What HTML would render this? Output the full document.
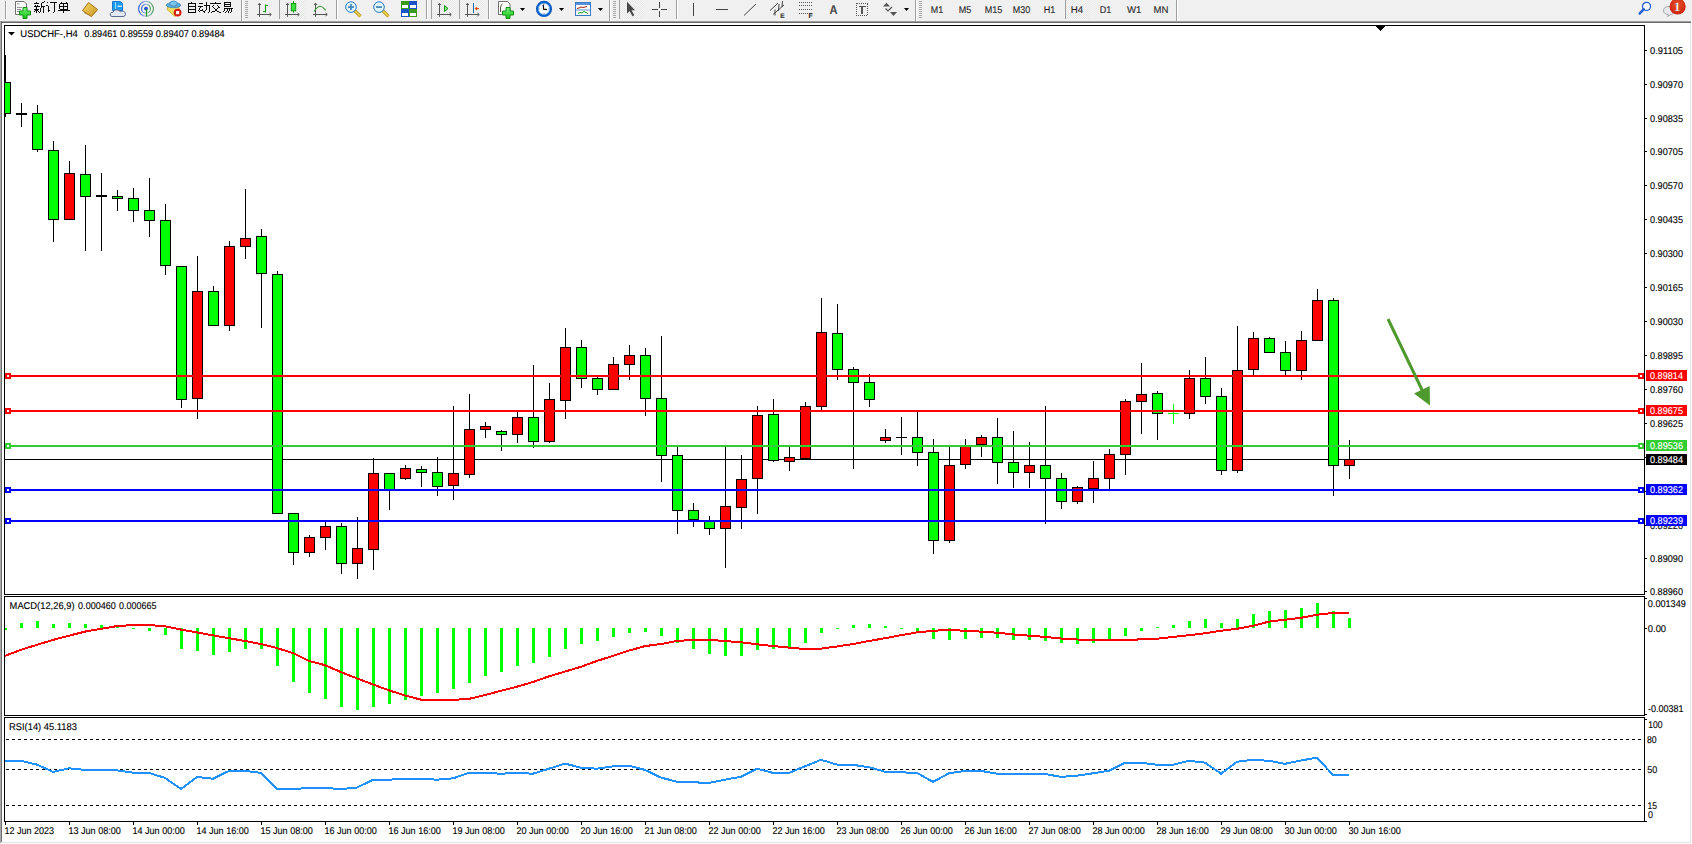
<!DOCTYPE html>
<html><head><meta charset="utf-8"><style>
html,body{margin:0;padding:0;background:#fff;overflow:hidden;width:1692px;height:844px}
svg{display:block;font-family:"Liberation Sans", sans-serif}
text{stroke:currentColor;stroke-width:0.12px;text-rendering:geometricPrecision}
</style></head><body>
<svg width="1692" height="844" viewBox="0 0 1692 844" shape-rendering="crispEdges">
<defs><clipPath id="mainclip"><rect x="5" y="26" width="1639" height="568"/></clipPath></defs>
<rect x="0" y="0" width="1692" height="844" fill="#fff"/>
<rect x="0" y="0" width="1692" height="21" fill="#f0f0f0"/>
<defs><pattern id="chk" width="2" height="2" patternUnits="userSpaceOnUse"><rect width="2" height="2" fill="#f7f7f7"/><rect width="1" height="1" fill="#e6e6e6"/><rect x="1" y="1" width="1" height="1" fill="#e6e6e6"/></pattern><linearGradient id="gpl" x1="0" y1="0" x2="0" y2="1"><stop offset="0" stop-color="#7cf27c"/><stop offset="1" stop-color="#10c010"/></linearGradient><linearGradient id="gold" x1="0" y1="0" x2="1" y2="1"><stop offset="0" stop-color="#f6dc6a"/><stop offset="1" stop-color="#c89420"/></linearGradient><radialGradient id="badge" cx="0.5" cy="0.4" r="0.6"><stop offset="0" stop-color="#e8502c"/><stop offset="1" stop-color="#cc2410"/></radialGradient><linearGradient id="rg" x1="0" y1="0" x2="1" y2="0"><stop offset="0" stop-color="#2a5ad0"/><stop offset="0.5" stop-color="#a8c0e8"/><stop offset="1" stop-color="#4a9a5a"/></linearGradient></defs>
<rect x="5" y="1" width="1" height="18" fill="#a0a0a0"/><rect x="6" y="1" width="1" height="18" fill="#ffffff"/>
<g shape-rendering="auto"><path d="M15.5 1.5H24L26.5 4V14.5H15.5Z" fill="#fff" stroke="#707070" stroke-width="1"/><path d="M17 3.8H19.5 M17 7.4H22 M17 9.5H21 M17 11.5H20" stroke="#8a8a8a" stroke-width="1"/><path d="M23 7.5H27V11H30.5V15H27V18.5H23V15H19.5V11H23Z" fill="url(#gpl)" stroke="#169016" stroke-width="1"/></g>
<path d="M3 0.3L3.6 1.6 M0.6 2.4H5.6 M1.6 3.4L2.1 4.9 M4.7 3.4L4.1 4.9 M0.2 5.5H6 M0.6 8H5.6 M3.1 5.5V11.8 M3 8.6L0.4 11 M3.3 9L5.4 10.6 M11.3 0.4L7.6 1.8 M7.6 1.8V6.8Q7.6 9.5 6.5 11.6 M7.6 5.4H12 M10 5.4V12" transform="translate(33.8,1.5) scale(0.95)" stroke="#000" stroke-width="1" fill="none" stroke-linecap="butt" shape-rendering="crispEdges"/>
<path d="M1 0.8L2.2 2.1 M0.3 4.6H2.6V10.8L4 9.6 M4.6 1.5H12 M8.5 1.5V11.2Q8.5 12 7.1 11.4" transform="translate(46.0,1.5) scale(0.95)" stroke="#000" stroke-width="1" fill="none" stroke-linecap="butt" shape-rendering="crispEdges"/>
<path d="M3.2 0L4.2 1.6 M8.8 0L7.8 1.6 M1.8 2.6H10.2V8.2H1.8Z M1.8 5.4H10.2 M6 2.6V12 M0 9.8H12" transform="translate(58.199999999999996,1.5) scale(0.95)" stroke="#000" stroke-width="1" fill="none" stroke-linecap="butt" shape-rendering="crispEdges"/>
<g shape-rendering="auto"><path d="M82.5 10.5L88.5 2.5L97.5 9.5L91.5 16.5Z" fill="url(#gold)" stroke="#a0701a" stroke-width="1"/><path d="M84 12.5L91.5 16.5L97.5 9.5" fill="none" stroke="#c08a30" stroke-width="1"/></g>
<g shape-rendering="auto"><path d="M112.5 1.5H120.5L122.5 3.5V10.5H112.5Z" fill="#1c9cf2" stroke="#1a78d0" stroke-width="1"/><path d="M115.5 2V9" stroke="#b8e4ff" stroke-width="0.8"/><path d="M117.5 6.2H122" stroke="#e8f6ff" stroke-width="1.2"/><path d="M112 16.5Q109.6 16.5 110.3 13.6Q111 11.8 113 12.3Q113.5 9.5 117 9.8Q119.5 9.8 120.5 12Q121.5 10.4 123.6 11.3Q126 12.2 125.5 14.5Q125.2 16.5 123 16.5Z" fill="#e4e8f2" stroke="#4a5a82" stroke-width="0.9"/></g>
<g shape-rendering="auto" fill="none"><circle cx="146" cy="8.8" r="7.4" stroke="url(#rg)" stroke-width="1.1"/><circle cx="146" cy="8.8" r="4.4" stroke="url(#rg)" stroke-width="1.1"/><circle cx="146" cy="8.6" r="1.9" fill="#2050d0" stroke="none"/><path d="M146.5 9V16.6" stroke="#20a020" stroke-width="1.3"/></g>
<g shape-rendering="auto"><path d="M167 9.5L175 16.5L180 11L178 6H168Z" fill="#f6e060" stroke="#c8a830" stroke-width="0.8"/><ellipse cx="173.5" cy="5.2" rx="7.2" ry="2.6" fill="#5aaee0" stroke="#3a80b8" stroke-width="0.8"/><ellipse cx="173.5" cy="3.6" rx="3.8" ry="2.6" fill="#7ac4ee" stroke="#3a80b8" stroke-width="0.8"/><circle cx="177.6" cy="12.6" r="3.9" fill="#d42010"/><rect x="176" y="11" width="3.2" height="3.2" fill="#fff"/></g>
<path d="M5.6 0L4.6 1.6 M2.2 1.8H9.8V11.8H2.2Z M2.2 5H9.8 M2.2 8.3H9.8 M2.2 11.3H9.8" transform="translate(186.2,1.5) scale(0.95)" stroke="#000" stroke-width="1" fill="none" stroke-linecap="butt" shape-rendering="crispEdges"/>
<path d="M0.8 2H5 M0.2 5H5.6 M2.6 5L0.6 10.2L5.2 9.2 M4 7.6L5.6 10.6 M6.4 4H11.6V10.6Q11.6 11.8 10 11.2 M9 0.8V5Q9 9 6.4 11.8" transform="translate(198.1,1.5) scale(0.95)" stroke="#000" stroke-width="1" fill="none" stroke-linecap="butt" shape-rendering="crispEdges"/>
<path d="M6 0L6.6 1.6 M0.4 2.6H11.6 M4.2 3.8L2 6.2 M7.8 3.8L10.2 6.2 M3.2 6.2Q6 10.5 11.2 11.8 M9 6.2Q6.5 10.5 0.8 11.8" transform="translate(210.0,1.5) scale(0.95)" stroke="#000" stroke-width="1" fill="none" stroke-linecap="butt" shape-rendering="crispEdges"/>
<path d="M3 0.6H9V5.6H3Z M3 3.1H9 M2.6 7H10.8Q10.8 11.8 9 11.4 M4.2 7L1.4 10.6 M6.6 7.6L4.2 11.6 M9 7.6L6.6 11.8" transform="translate(221.89999999999998,1.5) scale(0.95)" stroke="#000" stroke-width="1" fill="none" stroke-linecap="butt" shape-rendering="crispEdges"/>
<rect x="241" y="0" width="1" height="21" fill="#a0a0a0"/><rect x="242" y="0" width="1" height="21" fill="#ffffff"/>
<rect x="245" y="1" width="3" height="1" fill="#a8a8a8"/><rect x="245" y="3" width="3" height="1" fill="#a8a8a8"/><rect x="245" y="5" width="3" height="1" fill="#a8a8a8"/><rect x="245" y="7" width="3" height="1" fill="#a8a8a8"/><rect x="245" y="9" width="3" height="1" fill="#a8a8a8"/><rect x="245" y="11" width="3" height="1" fill="#a8a8a8"/><rect x="245" y="13" width="3" height="1" fill="#a8a8a8"/><rect x="245" y="15" width="3" height="1" fill="#a8a8a8"/><rect x="245" y="17" width="3" height="1" fill="#a8a8a8"/>
<g stroke="#555" stroke-width="1" fill="none" shape-rendering="auto"><path d="M259.5 3.5 V16.8 M257.0 14.5 H271.0"/><path d="M258.0 5 L259.5 3.2 L261.0 5 M269.5 13.0 L271.3 14.5 L269.5 16.0"/></g>
<path d="M265.5 4.5V12.5 M265.5 5.5H268 M263 11.5H265.5" stroke="#109a10" stroke-width="1.2" fill="none" shape-rendering="auto"/>
<rect x="279" y="0" width="1" height="19" fill="#a0a0a0"/><rect x="280" y="0" width="1" height="19" fill="#ffffff"/>
<rect x="280" y="0" width="25" height="19" fill="url(#chk)"/>
<g stroke="#555" stroke-width="1" fill="none" shape-rendering="auto"><path d="M287.5 3.5 V16.8 M285.0 14.5 H299.0"/><path d="M286.0 5 L287.5 3.2 L289.0 5 M297.5 13.0 L299.3 14.5 L297.5 16.0"/></g>
<g shape-rendering="auto"><path d="M293.5 1V12.7" stroke="#109a10" stroke-width="1"/><rect x="291.3" y="3.5" width="4.4" height="7.3" fill="#3ee03e" stroke="#109a10" stroke-width="1"/></g>
<g stroke="#555" stroke-width="1" fill="none" shape-rendering="auto"><path d="M315.5 3.5 V16.8 M313.0 14.5 H327.0"/><path d="M314.0 5 L315.5 3.2 L317.0 5 M325.5 13.0 L327.3 14.5 L325.5 16.0"/></g>
<path d="M314 11.5Q317.5 6 320.3 6.2Q322.5 6.5 325.6 10.3" stroke="#2a9a2a" stroke-width="1.1" fill="none" shape-rendering="auto"/>
<rect x="336" y="0" width="1" height="19" fill="#a0a0a0"/><rect x="337" y="0" width="1" height="19" fill="#ffffff"/>
<g shape-rendering="auto"><path d="M354.6 10.6L360.5 16.3" stroke="#b08a10" stroke-width="3.2"/><path d="M354.6 10.6L360.5 16.3" stroke="#f0d050" stroke-width="1.6"/><circle cx="351" cy="7.1" r="5.3" fill="#dff5fc" stroke="#2a78c8" stroke-width="1"/><path d="M348 7.1H354" stroke="#4a88b8" stroke-width="1.8"/><path d="M351 4.1V10.1" stroke="#4a88b8" stroke-width="1.8"/></g>
<g shape-rendering="auto"><path d="M382.6 10.6L388.5 16.3" stroke="#b08a10" stroke-width="3.2"/><path d="M382.6 10.6L388.5 16.3" stroke="#f0d050" stroke-width="1.6"/><circle cx="379" cy="7.1" r="5.3" fill="#dff5fc" stroke="#2a78c8" stroke-width="1"/><path d="M376 7.1H382" stroke="#4a88b8" stroke-width="1.8"/></g>
<rect x="401" y="1" width="8" height="8" fill="#3a9a1a"/><rect x="402" y="5" width="6" height="3" fill="#fff"/>
<rect x="409" y="1" width="8" height="8" fill="#1a52c8"/><rect x="410" y="5" width="6" height="3" fill="#fff"/>
<rect x="401" y="9" width="8" height="8" fill="#1a52c8"/><rect x="402" y="13" width="6" height="3" fill="#fff"/>
<rect x="409" y="9" width="8" height="8" fill="#3a9a1a"/><rect x="410" y="13" width="6" height="3" fill="#fff"/>
<rect x="426" y="0" width="1" height="19" fill="#a0a0a0"/><rect x="427" y="0" width="1" height="19" fill="#ffffff"/>
<rect x="431" y="0" width="1" height="19" fill="#a0a0a0"/><rect x="432" y="0" width="1" height="19" fill="#ffffff"/>
<rect x="432" y="0" width="24" height="19" fill="url(#chk)"/>
<g stroke="#555" stroke-width="1" fill="none" shape-rendering="auto"><path d="M439.5 3.5 V16.8 M437.0 14.5 H451.0"/><path d="M438.0 5 L439.5 3.2 L441.0 5 M449.5 13.0 L451.3 14.5 L449.5 16.0"/></g>
<path d="M444.5 5.5L448 8.5L444.5 11.5Z" fill="#7ee07e" stroke="#109a10" stroke-width="1" shape-rendering="auto"/>
<rect x="459" y="0" width="1" height="19" fill="#a0a0a0"/><rect x="460" y="0" width="1" height="19" fill="#ffffff"/>
<rect x="460" y="0" width="24" height="19" fill="url(#chk)"/>
<g stroke="#555" stroke-width="1" fill="none" shape-rendering="auto"><path d="M467.5 3.5 V16.8 M465.0 14.5 H479.0"/><path d="M466.0 5 L467.5 3.2 L469.0 5 M477.5 13.0 L479.3 14.5 L477.5 16.0"/></g>
<path d="M473.5 3V12.7" stroke="#1a6aa0" stroke-width="1"/><path d="M474.5 8.6L477 6.8V8H479V9.2H477V10.4Z" fill="#e05010" shape-rendering="auto"/>
<rect x="488" y="0" width="1" height="19" fill="#a0a0a0"/><rect x="489" y="0" width="1" height="19" fill="#ffffff"/>
<g shape-rendering="auto"><path d="M498.5 1.5H507.5L510 4V14.5H498.5Z" fill="#fff" stroke="#707070" stroke-width="1"/><path d="M502.5 4Q500.5 4.5 500.5 8V12" stroke="#554" stroke-width="1" fill="none"/><path d="M506 7.5H510V11H513.5V15H510V18.5H506V15H502.5V11H506Z" fill="url(#gpl)" stroke="#169016" stroke-width="1"/></g>
<polygon points="520,8 525,8 522.5,11" fill="#000" shape-rendering="auto"/>
<g shape-rendering="auto"><circle cx="544" cy="8.9" r="6.9" fill="#fff" stroke="#0d5cc4" stroke-width="2.4"/><circle cx="544" cy="8.9" r="5.6" fill="none" stroke="#4aa6f4" stroke-width="0.8"/><path d="M544 3.8V4.8 M544 13V14 M538.9 8.9H539.9 M548.1 8.9H549.1" stroke="#888" stroke-width="0.8"/><path d="M543.2 4.6L543.6 9.2L547 9.6" stroke="#000" stroke-width="1.2" fill="none"/></g>
<polygon points="559,8 564,8 561.5,11" fill="#000" shape-rendering="auto"/>
<g shape-rendering="auto"><rect x="575.5" y="2.5" width="15" height="13" fill="#fff" stroke="#3a78c8" stroke-width="1"/><rect x="576" y="3" width="14" height="2" fill="#5a90d8"/><path d="M576 10H590" stroke="#5a90d8" stroke-width="1"/><path d="M577 8.5L579 8L581 7L583 7.5L585 7L587 6.5" stroke="#a02010" stroke-width="1" fill="none"/><path d="M578 13.5L580 12.5L582 13L584 11.5L586 12.5L588 13.5" stroke="#109a10" stroke-width="1" fill="none"/></g>
<polygon points="598,8 603,8 600.5,11" fill="#000" shape-rendering="auto"/>
<rect x="609" y="0" width="1" height="21" fill="#a0a0a0"/><rect x="610" y="0" width="1" height="21" fill="#ffffff"/>
<rect x="613" y="1" width="3" height="1" fill="#a8a8a8"/><rect x="613" y="3" width="3" height="1" fill="#a8a8a8"/><rect x="613" y="5" width="3" height="1" fill="#a8a8a8"/><rect x="613" y="7" width="3" height="1" fill="#a8a8a8"/><rect x="613" y="9" width="3" height="1" fill="#a8a8a8"/><rect x="613" y="11" width="3" height="1" fill="#a8a8a8"/><rect x="613" y="13" width="3" height="1" fill="#a8a8a8"/><rect x="613" y="15" width="3" height="1" fill="#a8a8a8"/><rect x="613" y="17" width="3" height="1" fill="#a8a8a8"/>
<rect x="619" y="0" width="1" height="19" fill="#a0a0a0"/><rect x="620" y="0" width="1" height="19" fill="#ffffff"/>
<rect x="620" y="0" width="24" height="19" fill="url(#chk)"/>
<path d="M627 1.8V13.5L629.5 11L632.5 16.3L634.3 15.3L631.5 10.2H635Z" fill="#474747" shape-rendering="auto"/>
<path d="M652 9.5H658 M661 9.5H667 M659.5 2V8 M659.5 11V17" stroke="#444" stroke-width="1"/>
<rect x="676" y="0" width="1" height="19" fill="#a0a0a0"/><rect x="677" y="0" width="1" height="19" fill="#ffffff"/>
<rect x="693" y="3" width="1" height="13" fill="#444"/>
<rect x="716" y="9" width="12" height="1" fill="#444"/>
<path d="M744 15.5L756 4" stroke="#444" stroke-width="1" shape-rendering="auto"/>
<g shape-rendering="auto" stroke="#444" stroke-width="1" fill="none"><path d="M770 10.5L778 3 M773 14.5L784 5 M775 9.5L775 15.5 M779 4L778.5 11 M782.5 1L782 7"/><text x="780.3" y="17.6" font-size="6.5" font-weight="bold" fill="#333" stroke="none">E</text></g>
<path d="M799 2.5H812" stroke="#555" stroke-width="1" stroke-dasharray="1,1"/>
<path d="M799 5.5H812" stroke="#555" stroke-width="1" stroke-dasharray="1,1"/>
<path d="M799 9.5H812" stroke="#555" stroke-width="1" stroke-dasharray="1,1"/>
<path d="M799 13.5H812" stroke="#555" stroke-width="1" stroke-dasharray="1,1"/>
<text x="808.5" y="18" font-size="6.8" font-weight="bold" fill="#333">F</text>
<text x="829.5" y="14.3" font-size="12.5" fill="#505050" font-weight="bold" textLength="8" lengthAdjust="spacingAndGlyphs">A</text>
<rect x="856.5" y="3" width="11" height="12.5" fill="none" stroke="#555" stroke-width="1" stroke-dasharray="1,1"/>
<path d="M858.5 6.5H866 M862.2 6.5V14" stroke="#555" stroke-width="1.6"/>
<g shape-rendering="auto"><path d="M883 6.5L886.5 2.8L890 6.5Z" fill="#555"/><path d="M885.5 8.5L888 11L892 7" stroke="#555" stroke-width="1.2" fill="none"/><path d="M890 12L893.5 16L897 12Z" fill="#555"/></g>
<polygon points="904,8 909,8 906.5,11" fill="#000" shape-rendering="auto"/>
<rect x="915" y="0" width="1" height="21" fill="#a0a0a0"/><rect x="916" y="0" width="1" height="21" fill="#ffffff"/>
<rect x="919" y="1" width="3" height="1" fill="#a8a8a8"/><rect x="919" y="3" width="3" height="1" fill="#a8a8a8"/><rect x="919" y="5" width="3" height="1" fill="#a8a8a8"/><rect x="919" y="7" width="3" height="1" fill="#a8a8a8"/><rect x="919" y="9" width="3" height="1" fill="#a8a8a8"/><rect x="919" y="11" width="3" height="1" fill="#a8a8a8"/><rect x="919" y="13" width="3" height="1" fill="#a8a8a8"/><rect x="919" y="15" width="3" height="1" fill="#a8a8a8"/><rect x="919" y="17" width="3" height="1" fill="#a8a8a8"/>
<rect x="1065" y="0" width="1" height="19" fill="#a0a0a0"/>
<rect x="1066" y="0" width="24" height="19" fill="url(#chk)"/>
<text x="930.8" y="13" font-size="9.8" fill="#333" textLength="12.4" lengthAdjust="spacingAndGlyphs">M1</text>
<text x="958.7" y="13" font-size="9.8" fill="#333" textLength="12.6" lengthAdjust="spacingAndGlyphs">M5</text>
<text x="984.7" y="13" font-size="9.8" fill="#333" textLength="17.6" lengthAdjust="spacingAndGlyphs">M15</text>
<text x="1012.7" y="13" font-size="9.8" fill="#333" textLength="17.5" lengthAdjust="spacingAndGlyphs">M30</text>
<text x="1043.7" y="13" font-size="9.8" fill="#333" textLength="11.6" lengthAdjust="spacingAndGlyphs">H1</text>
<text x="1070.7" y="13" font-size="9.8" fill="#333" textLength="12.4" lengthAdjust="spacingAndGlyphs">H4</text>
<text x="1099.7" y="13" font-size="9.8" fill="#333" textLength="11.6" lengthAdjust="spacingAndGlyphs">D1</text>
<text x="1127" y="13" font-size="9.8" fill="#333" textLength="14.5" lengthAdjust="spacingAndGlyphs">W1</text>
<text x="1153.5" y="13" font-size="9.8" fill="#333" textLength="14.9" lengthAdjust="spacingAndGlyphs">MN</text>
<rect x="1176" y="0" width="1" height="21" fill="#a0a0a0"/><rect x="1177" y="0" width="1" height="21" fill="#ffffff"/>
<g shape-rendering="auto"><circle cx="1646.5" cy="6.4" r="4" fill="#fff" stroke="#2060d0" stroke-width="1.3"/><path d="M1643.8 9.2L1639.6 13.6" stroke="#2060d0" stroke-width="2.4" stroke-linecap="round"/></g>
<g shape-rendering="auto"><path d="M1667.5 16.5L1668.5 14.7Q1663.5 14 1663.5 10.7Q1663.5 6.5 1669 6.5Q1674.5 6.5 1674.5 10.7Q1674.5 14.5 1670.5 14.7Z" fill="#e8e8ef" stroke="#a0a0a0" stroke-width="0.9"/><circle cx="1677.6" cy="6.4" r="8.1" fill="url(#badge)"/><text x="1674" y="11.3" font-size="12.5" font-family="Liberation Serif, serif" font-weight="bold" fill="#fff">1</text></g>
<rect x="0" y="21" width="1691" height="1" fill="#a0a0a0"/>
<rect x="0" y="22" width="1691" height="1" fill="#696969"/>
<rect x="0" y="21" width="1" height="822" fill="#a8a8a8"/>
<rect x="1" y="21" width="1" height="821" fill="#707070"/>
<rect x="1690" y="23" width="1" height="820" fill="#e3e3e3"/>
<rect x="1691" y="0" width="1" height="21" fill="#f0f0f0"/>
<rect x="2" y="842" width="1689" height="1" fill="#e3e3e3"/>
<rect x="4" y="25" width="1641" height="1" fill="#000"/>
<rect x="4" y="594" width="1641" height="1" fill="#000"/>
<rect x="4" y="25" width="1" height="570" fill="#000"/>
<rect x="1644" y="25" width="1" height="570" fill="#000"/>
<rect x="4" y="596" width="1641" height="1" fill="#000"/>
<rect x="4" y="715" width="1641" height="1" fill="#000"/>
<rect x="4" y="596" width="1" height="120" fill="#000"/>
<rect x="1644" y="596" width="1" height="120" fill="#000"/>
<rect x="4" y="717" width="1641" height="1" fill="#000"/>
<rect x="4" y="821" width="1641" height="1" fill="#000"/>
<rect x="4" y="717" width="1" height="105" fill="#000"/>
<rect x="1644" y="717" width="1" height="105" fill="#000"/>
<polygon points="1375.5,26 1385.5,26 1380.5,31" fill="#000"/>
<rect x="1645" y="50" width="2" height="1" fill="#000"/>
<text x="1650" y="53.6" font-size="9.8" fill="#000" color="#000" textLength="33" lengthAdjust="spacingAndGlyphs">0.91105</text>
<rect x="1645" y="84" width="2" height="1" fill="#000"/>
<text x="1650" y="87.6" font-size="9.8" fill="#000" color="#000" textLength="33" lengthAdjust="spacingAndGlyphs">0.90970</text>
<rect x="1645" y="118" width="2" height="1" fill="#000"/>
<text x="1650" y="121.6" font-size="9.8" fill="#000" color="#000" textLength="33" lengthAdjust="spacingAndGlyphs">0.90835</text>
<rect x="1645" y="151" width="2" height="1" fill="#000"/>
<text x="1650" y="154.6" font-size="9.8" fill="#000" color="#000" textLength="33" lengthAdjust="spacingAndGlyphs">0.90705</text>
<rect x="1645" y="185" width="2" height="1" fill="#000"/>
<text x="1650" y="188.6" font-size="9.8" fill="#000" color="#000" textLength="33" lengthAdjust="spacingAndGlyphs">0.90570</text>
<rect x="1645" y="219" width="2" height="1" fill="#000"/>
<text x="1650" y="222.6" font-size="9.8" fill="#000" color="#000" textLength="33" lengthAdjust="spacingAndGlyphs">0.90435</text>
<rect x="1645" y="253" width="2" height="1" fill="#000"/>
<text x="1650" y="256.6" font-size="9.8" fill="#000" color="#000" textLength="33" lengthAdjust="spacingAndGlyphs">0.90300</text>
<rect x="1645" y="287" width="2" height="1" fill="#000"/>
<text x="1650" y="290.6" font-size="9.8" fill="#000" color="#000" textLength="33" lengthAdjust="spacingAndGlyphs">0.90165</text>
<rect x="1645" y="321" width="2" height="1" fill="#000"/>
<text x="1650" y="324.6" font-size="9.8" fill="#000" color="#000" textLength="33" lengthAdjust="spacingAndGlyphs">0.90030</text>
<rect x="1645" y="355" width="2" height="1" fill="#000"/>
<text x="1650" y="358.6" font-size="9.8" fill="#000" color="#000" textLength="33" lengthAdjust="spacingAndGlyphs">0.89895</text>
<rect x="1645" y="389" width="2" height="1" fill="#000"/>
<text x="1650" y="392.6" font-size="9.8" fill="#000" color="#000" textLength="33" lengthAdjust="spacingAndGlyphs">0.89760</text>
<rect x="1645" y="423" width="2" height="1" fill="#000"/>
<text x="1650" y="426.6" font-size="9.8" fill="#000" color="#000" textLength="33" lengthAdjust="spacingAndGlyphs">0.89625</text>
<rect x="1645" y="457" width="2" height="1" fill="#000"/>
<text x="1650" y="460.6" font-size="9.8" fill="#000" color="#000" textLength="33" lengthAdjust="spacingAndGlyphs">0.89490</text>
<rect x="1645" y="491" width="2" height="1" fill="#000"/>
<text x="1650" y="494.6" font-size="9.8" fill="#000" color="#000" textLength="33" lengthAdjust="spacingAndGlyphs">0.89355</text>
<rect x="1645" y="525" width="2" height="1" fill="#000"/>
<text x="1650" y="528.6" font-size="9.8" fill="#000" color="#000" textLength="33" lengthAdjust="spacingAndGlyphs">0.89220</text>
<rect x="1645" y="558" width="2" height="1" fill="#000"/>
<text x="1650" y="561.6" font-size="9.8" fill="#000" color="#000" textLength="33" lengthAdjust="spacingAndGlyphs">0.89090</text>
<rect x="1645" y="591" width="2" height="1" fill="#000"/>
<text x="1650" y="594.6" font-size="9.8" fill="#000" color="#000" textLength="33" lengthAdjust="spacingAndGlyphs">0.88960</text>
<rect x="5" y="459" width="1639" height="1" fill="#000"/>
<g clip-path="url(#mainclip)">
<rect x="5" y="55" width="1" height="62" fill="#000"/>
<rect x="0" y="82" width="11" height="32" fill="#000"/>
<rect x="1" y="83" width="9" height="30" fill="#00ff00"/>
<rect x="21" y="103" width="1" height="24" fill="#000"/>
<rect x="16" y="113" width="11" height="2" fill="#000"/>
<rect x="37" y="105" width="1" height="47" fill="#000"/>
<rect x="32" y="113" width="11" height="37" fill="#000"/>
<rect x="33" y="114" width="9" height="35" fill="#00ff00"/>
<rect x="53" y="141" width="1" height="101" fill="#000"/>
<rect x="48" y="150" width="11" height="70" fill="#000"/>
<rect x="49" y="151" width="9" height="68" fill="#00ff00"/>
<rect x="69" y="161" width="1" height="59" fill="#000"/>
<rect x="64" y="173" width="11" height="47" fill="#000"/>
<rect x="65" y="174" width="9" height="45" fill="#ff0000"/>
<rect x="85" y="145" width="1" height="106" fill="#000"/>
<rect x="80" y="174" width="11" height="23" fill="#000"/>
<rect x="81" y="175" width="9" height="21" fill="#00ff00"/>
<rect x="101" y="173" width="1" height="78" fill="#000"/>
<rect x="96" y="195" width="11" height="2" fill="#000"/>
<rect x="117" y="190" width="1" height="21" fill="#000"/>
<rect x="112" y="196" width="11" height="3" fill="#000"/>
<rect x="113" y="197" width="9" height="1" fill="#00ff00"/>
<rect x="133" y="188" width="1" height="34" fill="#000"/>
<rect x="128" y="198" width="11" height="13" fill="#000"/>
<rect x="129" y="199" width="9" height="11" fill="#00ff00"/>
<rect x="149" y="178" width="1" height="59" fill="#000"/>
<rect x="144" y="210" width="11" height="11" fill="#000"/>
<rect x="145" y="211" width="9" height="9" fill="#00ff00"/>
<rect x="165" y="204" width="1" height="71" fill="#000"/>
<rect x="160" y="220" width="11" height="46" fill="#000"/>
<rect x="161" y="221" width="9" height="44" fill="#00ff00"/>
<rect x="181" y="266" width="1" height="142" fill="#000"/>
<rect x="176" y="266" width="11" height="134" fill="#000"/>
<rect x="177" y="267" width="9" height="132" fill="#00ff00"/>
<rect x="197" y="256" width="1" height="163" fill="#000"/>
<rect x="192" y="291" width="11" height="108" fill="#000"/>
<rect x="193" y="292" width="9" height="106" fill="#ff0000"/>
<rect x="213" y="286" width="1" height="40" fill="#000"/>
<rect x="208" y="291" width="11" height="35" fill="#000"/>
<rect x="209" y="292" width="9" height="33" fill="#00ff00"/>
<rect x="229" y="241" width="1" height="90" fill="#000"/>
<rect x="224" y="246" width="11" height="80" fill="#000"/>
<rect x="225" y="247" width="9" height="78" fill="#ff0000"/>
<rect x="245" y="189" width="1" height="70" fill="#000"/>
<rect x="240" y="238" width="11" height="9" fill="#000"/>
<rect x="241" y="239" width="9" height="7" fill="#ff0000"/>
<rect x="261" y="229" width="1" height="99" fill="#000"/>
<rect x="256" y="236" width="11" height="38" fill="#000"/>
<rect x="257" y="237" width="9" height="36" fill="#00ff00"/>
<rect x="277" y="271" width="1" height="243" fill="#000"/>
<rect x="272" y="274" width="11" height="240" fill="#000"/>
<rect x="273" y="275" width="9" height="238" fill="#00ff00"/>
<rect x="293" y="513" width="1" height="52" fill="#000"/>
<rect x="288" y="513" width="11" height="40" fill="#000"/>
<rect x="289" y="514" width="9" height="38" fill="#00ff00"/>
<rect x="309" y="535" width="1" height="22" fill="#000"/>
<rect x="304" y="537" width="11" height="16" fill="#000"/>
<rect x="305" y="538" width="9" height="14" fill="#ff0000"/>
<rect x="325" y="521" width="1" height="29" fill="#000"/>
<rect x="320" y="526" width="11" height="12" fill="#000"/>
<rect x="321" y="527" width="9" height="10" fill="#ff0000"/>
<rect x="341" y="523" width="1" height="51" fill="#000"/>
<rect x="336" y="526" width="11" height="38" fill="#000"/>
<rect x="337" y="527" width="9" height="36" fill="#00ff00"/>
<rect x="357" y="517" width="1" height="62" fill="#000"/>
<rect x="352" y="548" width="11" height="16" fill="#000"/>
<rect x="353" y="549" width="9" height="14" fill="#ff0000"/>
<rect x="373" y="458" width="1" height="112" fill="#000"/>
<rect x="368" y="473" width="11" height="77" fill="#000"/>
<rect x="369" y="474" width="9" height="75" fill="#ff0000"/>
<rect x="389" y="473" width="1" height="37" fill="#000"/>
<rect x="384" y="473" width="11" height="17" fill="#000"/>
<rect x="385" y="474" width="9" height="15" fill="#00ff00"/>
<rect x="405" y="465" width="1" height="15" fill="#000"/>
<rect x="400" y="468" width="11" height="11" fill="#000"/>
<rect x="401" y="469" width="9" height="9" fill="#ff0000"/>
<rect x="421" y="466" width="1" height="21" fill="#000"/>
<rect x="416" y="469" width="11" height="4" fill="#000"/>
<rect x="417" y="470" width="9" height="2" fill="#00ff00"/>
<rect x="437" y="457" width="1" height="39" fill="#000"/>
<rect x="432" y="472" width="11" height="15" fill="#000"/>
<rect x="433" y="473" width="9" height="13" fill="#00ff00"/>
<rect x="453" y="406" width="1" height="94" fill="#000"/>
<rect x="448" y="473" width="11" height="13" fill="#000"/>
<rect x="449" y="474" width="9" height="11" fill="#ff0000"/>
<rect x="469" y="394" width="1" height="84" fill="#000"/>
<rect x="464" y="429" width="11" height="46" fill="#000"/>
<rect x="465" y="430" width="9" height="44" fill="#ff0000"/>
<rect x="485" y="422" width="1" height="16" fill="#000"/>
<rect x="480" y="426" width="11" height="4" fill="#000"/>
<rect x="481" y="427" width="9" height="2" fill="#ff0000"/>
<rect x="501" y="430" width="1" height="21" fill="#000"/>
<rect x="496" y="431" width="11" height="4" fill="#000"/>
<rect x="497" y="432" width="9" height="2" fill="#00ff00"/>
<rect x="517" y="412" width="1" height="31" fill="#000"/>
<rect x="512" y="417" width="11" height="18" fill="#000"/>
<rect x="513" y="418" width="9" height="16" fill="#ff0000"/>
<rect x="533" y="365" width="1" height="83" fill="#000"/>
<rect x="528" y="417" width="11" height="25" fill="#000"/>
<rect x="529" y="418" width="9" height="23" fill="#00ff00"/>
<rect x="549" y="383" width="1" height="60" fill="#000"/>
<rect x="544" y="399" width="11" height="43" fill="#000"/>
<rect x="545" y="400" width="9" height="41" fill="#ff0000"/>
<rect x="565" y="328" width="1" height="91" fill="#000"/>
<rect x="560" y="347" width="11" height="54" fill="#000"/>
<rect x="561" y="348" width="9" height="52" fill="#ff0000"/>
<rect x="581" y="340" width="1" height="48" fill="#000"/>
<rect x="576" y="347" width="11" height="32" fill="#000"/>
<rect x="577" y="348" width="9" height="30" fill="#00ff00"/>
<rect x="597" y="376" width="1" height="19" fill="#000"/>
<rect x="592" y="378" width="11" height="12" fill="#000"/>
<rect x="593" y="379" width="9" height="10" fill="#00ff00"/>
<rect x="613" y="357" width="1" height="33" fill="#000"/>
<rect x="608" y="364" width="11" height="26" fill="#000"/>
<rect x="609" y="365" width="9" height="24" fill="#ff0000"/>
<rect x="629" y="345" width="1" height="35" fill="#000"/>
<rect x="624" y="355" width="11" height="10" fill="#000"/>
<rect x="625" y="356" width="9" height="8" fill="#ff0000"/>
<rect x="645" y="348" width="1" height="68" fill="#000"/>
<rect x="640" y="355" width="11" height="44" fill="#000"/>
<rect x="641" y="356" width="9" height="42" fill="#00ff00"/>
<rect x="661" y="336" width="1" height="146" fill="#000"/>
<rect x="656" y="398" width="11" height="58" fill="#000"/>
<rect x="657" y="399" width="9" height="56" fill="#00ff00"/>
<rect x="677" y="447" width="1" height="87" fill="#000"/>
<rect x="672" y="455" width="11" height="56" fill="#000"/>
<rect x="673" y="456" width="9" height="54" fill="#00ff00"/>
<rect x="693" y="503" width="1" height="24" fill="#000"/>
<rect x="688" y="510" width="11" height="10" fill="#000"/>
<rect x="689" y="511" width="9" height="8" fill="#00ff00"/>
<rect x="709" y="516" width="1" height="19" fill="#000"/>
<rect x="704" y="521" width="11" height="8" fill="#000"/>
<rect x="705" y="522" width="9" height="6" fill="#00ff00"/>
<rect x="725" y="447" width="1" height="121" fill="#000"/>
<rect x="720" y="506" width="11" height="23" fill="#000"/>
<rect x="721" y="507" width="9" height="21" fill="#ff0000"/>
<rect x="741" y="455" width="1" height="74" fill="#000"/>
<rect x="736" y="479" width="11" height="29" fill="#000"/>
<rect x="737" y="480" width="9" height="27" fill="#ff0000"/>
<rect x="757" y="406" width="1" height="108" fill="#000"/>
<rect x="752" y="415" width="11" height="64" fill="#000"/>
<rect x="753" y="416" width="9" height="62" fill="#ff0000"/>
<rect x="773" y="399" width="1" height="63" fill="#000"/>
<rect x="768" y="414" width="11" height="47" fill="#000"/>
<rect x="769" y="415" width="9" height="45" fill="#00ff00"/>
<rect x="789" y="447" width="1" height="24" fill="#000"/>
<rect x="784" y="457" width="11" height="5" fill="#000"/>
<rect x="785" y="458" width="9" height="3" fill="#ff0000"/>
<rect x="805" y="402" width="1" height="57" fill="#000"/>
<rect x="800" y="406" width="11" height="53" fill="#000"/>
<rect x="801" y="407" width="9" height="51" fill="#ff0000"/>
<rect x="821" y="298" width="1" height="113" fill="#000"/>
<rect x="816" y="332" width="11" height="75" fill="#000"/>
<rect x="817" y="333" width="9" height="73" fill="#ff0000"/>
<rect x="837" y="304" width="1" height="76" fill="#000"/>
<rect x="832" y="333" width="11" height="37" fill="#000"/>
<rect x="833" y="334" width="9" height="35" fill="#00ff00"/>
<rect x="853" y="367" width="1" height="102" fill="#000"/>
<rect x="848" y="369" width="11" height="14" fill="#000"/>
<rect x="849" y="370" width="9" height="12" fill="#00ff00"/>
<rect x="869" y="374" width="1" height="33" fill="#000"/>
<rect x="864" y="382" width="11" height="18" fill="#000"/>
<rect x="865" y="383" width="9" height="16" fill="#00ff00"/>
<rect x="885" y="429" width="1" height="14" fill="#000"/>
<rect x="880" y="437" width="11" height="4" fill="#000"/>
<rect x="881" y="438" width="9" height="2" fill="#ff0000"/>
<rect x="901" y="417" width="1" height="38" fill="#000"/>
<rect x="896" y="437" width="11" height="1" fill="#000"/>
<rect x="917" y="412" width="1" height="54" fill="#000"/>
<rect x="912" y="437" width="11" height="16" fill="#000"/>
<rect x="913" y="438" width="9" height="14" fill="#00ff00"/>
<rect x="933" y="439" width="1" height="115" fill="#000"/>
<rect x="928" y="452" width="11" height="89" fill="#000"/>
<rect x="929" y="453" width="9" height="87" fill="#00ff00"/>
<rect x="949" y="446" width="1" height="97" fill="#000"/>
<rect x="944" y="465" width="11" height="76" fill="#000"/>
<rect x="945" y="466" width="9" height="74" fill="#ff0000"/>
<rect x="965" y="439" width="1" height="30" fill="#000"/>
<rect x="960" y="446" width="11" height="19" fill="#000"/>
<rect x="961" y="447" width="9" height="17" fill="#ff0000"/>
<rect x="981" y="435" width="1" height="22" fill="#000"/>
<rect x="976" y="437" width="11" height="8" fill="#000"/>
<rect x="977" y="438" width="9" height="6" fill="#ff0000"/>
<rect x="997" y="418" width="1" height="66" fill="#000"/>
<rect x="992" y="437" width="11" height="26" fill="#000"/>
<rect x="993" y="438" width="9" height="24" fill="#00ff00"/>
<rect x="1013" y="431" width="1" height="57" fill="#000"/>
<rect x="1008" y="462" width="11" height="11" fill="#000"/>
<rect x="1009" y="463" width="9" height="9" fill="#00ff00"/>
<rect x="1029" y="442" width="1" height="46" fill="#000"/>
<rect x="1024" y="465" width="11" height="8" fill="#000"/>
<rect x="1025" y="466" width="9" height="6" fill="#ff0000"/>
<rect x="1045" y="406" width="1" height="118" fill="#000"/>
<rect x="1040" y="465" width="11" height="14" fill="#000"/>
<rect x="1041" y="466" width="9" height="12" fill="#00ff00"/>
<rect x="1061" y="473" width="1" height="36" fill="#000"/>
<rect x="1056" y="478" width="11" height="24" fill="#000"/>
<rect x="1057" y="479" width="9" height="22" fill="#00ff00"/>
<rect x="1077" y="486" width="1" height="18" fill="#000"/>
<rect x="1072" y="487" width="11" height="15" fill="#000"/>
<rect x="1073" y="488" width="9" height="13" fill="#ff0000"/>
<rect x="1093" y="461" width="1" height="42" fill="#000"/>
<rect x="1088" y="478" width="11" height="11" fill="#000"/>
<rect x="1089" y="479" width="9" height="9" fill="#ff0000"/>
<rect x="1109" y="449" width="1" height="41" fill="#000"/>
<rect x="1104" y="454" width="11" height="25" fill="#000"/>
<rect x="1105" y="455" width="9" height="23" fill="#ff0000"/>
<rect x="1125" y="399" width="1" height="76" fill="#000"/>
<rect x="1120" y="401" width="11" height="54" fill="#000"/>
<rect x="1121" y="402" width="9" height="52" fill="#ff0000"/>
<rect x="1141" y="363" width="1" height="71" fill="#000"/>
<rect x="1136" y="394" width="11" height="8" fill="#000"/>
<rect x="1137" y="395" width="9" height="6" fill="#ff0000"/>
<rect x="1157" y="391" width="1" height="49" fill="#000"/>
<rect x="1152" y="393" width="11" height="21" fill="#000"/>
<rect x="1153" y="394" width="9" height="19" fill="#00ff00"/>
<rect x="1173" y="404" width="1" height="20" fill="#00ff00"/>
<rect x="1168" y="413" width="11" height="1" fill="#00ff00"/>
<rect x="1189" y="370" width="1" height="49" fill="#000"/>
<rect x="1184" y="378" width="11" height="36" fill="#000"/>
<rect x="1185" y="379" width="9" height="34" fill="#ff0000"/>
<rect x="1205" y="357" width="1" height="47" fill="#000"/>
<rect x="1200" y="378" width="11" height="19" fill="#000"/>
<rect x="1201" y="379" width="9" height="17" fill="#00ff00"/>
<rect x="1221" y="388" width="1" height="87" fill="#000"/>
<rect x="1216" y="396" width="11" height="75" fill="#000"/>
<rect x="1217" y="397" width="9" height="73" fill="#00ff00"/>
<rect x="1237" y="326" width="1" height="147" fill="#000"/>
<rect x="1232" y="370" width="11" height="101" fill="#000"/>
<rect x="1233" y="371" width="9" height="99" fill="#ff0000"/>
<rect x="1253" y="332" width="1" height="44" fill="#000"/>
<rect x="1248" y="338" width="11" height="32" fill="#000"/>
<rect x="1249" y="339" width="9" height="30" fill="#ff0000"/>
<rect x="1269" y="337" width="1" height="16" fill="#000"/>
<rect x="1264" y="338" width="11" height="15" fill="#000"/>
<rect x="1265" y="339" width="9" height="13" fill="#00ff00"/>
<rect x="1285" y="341" width="1" height="35" fill="#000"/>
<rect x="1280" y="352" width="11" height="19" fill="#000"/>
<rect x="1281" y="353" width="9" height="17" fill="#00ff00"/>
<rect x="1301" y="331" width="1" height="49" fill="#000"/>
<rect x="1296" y="340" width="11" height="31" fill="#000"/>
<rect x="1297" y="341" width="9" height="29" fill="#ff0000"/>
<rect x="1317" y="289" width="1" height="52" fill="#000"/>
<rect x="1312" y="300" width="11" height="41" fill="#000"/>
<rect x="1313" y="301" width="9" height="39" fill="#ff0000"/>
<rect x="1333" y="298" width="1" height="198" fill="#000"/>
<rect x="1328" y="300" width="11" height="166" fill="#000"/>
<rect x="1329" y="301" width="9" height="164" fill="#00ff00"/>
<rect x="1349" y="440" width="1" height="39" fill="#000"/>
<rect x="1344" y="459" width="11" height="7" fill="#000"/>
<rect x="1345" y="460" width="9" height="5" fill="#ff0000"/>
</g>
<rect x="5" y="375" width="1639" height="2" fill="#ff0000"/>
<rect x="5" y="373" width="6" height="6" fill="#ff0000"/>
<rect x="7" y="375" width="2" height="2" fill="#fff"/>
<rect x="1638" y="373" width="6" height="6" fill="#ff0000"/>
<rect x="1640" y="375" width="2" height="2" fill="#fff"/>
<rect x="5" y="410" width="1639" height="2" fill="#ff0000"/>
<rect x="5" y="408" width="6" height="6" fill="#ff0000"/>
<rect x="7" y="410" width="2" height="2" fill="#fff"/>
<rect x="1638" y="408" width="6" height="6" fill="#ff0000"/>
<rect x="1640" y="410" width="2" height="2" fill="#fff"/>
<rect x="5" y="445" width="1639" height="2" fill="#32cd32"/>
<rect x="5" y="443" width="6" height="6" fill="#32cd32"/>
<rect x="7" y="445" width="2" height="2" fill="#fff"/>
<rect x="1638" y="443" width="6" height="6" fill="#32cd32"/>
<rect x="1640" y="445" width="2" height="2" fill="#fff"/>
<rect x="5" y="489" width="1639" height="2" fill="#0000ff"/>
<rect x="5" y="487" width="6" height="6" fill="#0000ff"/>
<rect x="7" y="489" width="2" height="2" fill="#fff"/>
<rect x="1638" y="487" width="6" height="6" fill="#0000ff"/>
<rect x="1640" y="489" width="2" height="2" fill="#fff"/>
<rect x="5" y="520" width="1639" height="2" fill="#0000ff"/>
<rect x="5" y="518" width="6" height="6" fill="#0000ff"/>
<rect x="7" y="520" width="2" height="2" fill="#fff"/>
<rect x="1638" y="518" width="6" height="6" fill="#0000ff"/>
<rect x="1640" y="520" width="2" height="2" fill="#fff"/>
<rect x="1646" y="370" width="41" height="11" fill="#ff0000"/>
<text x="1650" y="378.6" font-size="9.8" fill="#fff" color="#fff" textLength="33" lengthAdjust="spacingAndGlyphs">0.89814</text>
<rect x="1646" y="405" width="41" height="11" fill="#ff0000"/>
<text x="1650" y="413.6" font-size="9.8" fill="#fff" color="#fff" textLength="33" lengthAdjust="spacingAndGlyphs">0.89675</text>
<rect x="1646" y="440" width="41" height="11" fill="#32cd32"/>
<text x="1650" y="448.6" font-size="9.8" fill="#fff" color="#fff" textLength="33" lengthAdjust="spacingAndGlyphs">0.89536</text>
<rect x="1646" y="484" width="41" height="11" fill="#0000ff"/>
<text x="1650" y="492.6" font-size="9.8" fill="#fff" color="#fff" textLength="33" lengthAdjust="spacingAndGlyphs">0.89362</text>
<rect x="1646" y="515" width="41" height="11" fill="#0000ff"/>
<text x="1650" y="523.6" font-size="9.8" fill="#fff" color="#fff" textLength="33" lengthAdjust="spacingAndGlyphs">0.89239</text>
<rect x="1646" y="454" width="41" height="11" fill="#000"/>
<text x="1650" y="462.6" font-size="9.8" fill="#fff" color="#fff" textLength="33" lengthAdjust="spacingAndGlyphs">0.89484</text>
<g shape-rendering="auto"><line x1="1388" y1="319" x2="1424" y2="394" stroke="#4f9a2e" stroke-width="3"/>
<polygon points="1430,405.5 1414,393.5 1429.7,386" fill="#4f9a2e"/></g>
<polygon points="8,32 15,32 11.5,35.5" fill="#000" shape-rendering="auto"/>
<text x="20.3" y="36.6" font-size="9.8" fill="#000" color="#000" textLength="57.5" lengthAdjust="spacingAndGlyphs">USDCHF-,H4</text>
<text x="84.3" y="36.6" font-size="9.8" fill="#000" color="#000" textLength="140.3" lengthAdjust="spacingAndGlyphs">0.89461 0.89559 0.89407 0.89484</text>
<text x="9.6" y="608.6" font-size="9.8" fill="#000" color="#000" textLength="64.9" lengthAdjust="spacingAndGlyphs">MACD(12,26,9)</text>
<text x="78.1" y="608.6" font-size="9.8" fill="#000" color="#000" textLength="37.7" lengthAdjust="spacingAndGlyphs">0.000460</text>
<text x="119.1" y="608.6" font-size="9.8" fill="#000" color="#000" textLength="37.3" lengthAdjust="spacingAndGlyphs">0.000665</text>
<rect x="5" y="628" width="2" height="2" fill="#00ff00"/>
<rect x="20" y="623" width="3" height="5" fill="#00ff00"/>
<rect x="36" y="621" width="3" height="7" fill="#00ff00"/>
<rect x="52" y="624" width="3" height="4" fill="#00ff00"/>
<rect x="68" y="623" width="3" height="5" fill="#00ff00"/>
<rect x="84" y="624" width="3" height="4" fill="#00ff00"/>
<rect x="100" y="625" width="3" height="3" fill="#00ff00"/>
<rect x="116" y="626" width="3" height="2" fill="#00ff00"/>
<rect x="132" y="628" width="3" height="1" fill="#00ff00"/>
<rect x="148" y="628" width="3" height="3" fill="#00ff00"/>
<rect x="164" y="628" width="3" height="7" fill="#00ff00"/>
<rect x="180" y="628" width="3" height="21" fill="#00ff00"/>
<rect x="196" y="628" width="3" height="23" fill="#00ff00"/>
<rect x="212" y="628" width="3" height="27" fill="#00ff00"/>
<rect x="228" y="628" width="3" height="24" fill="#00ff00"/>
<rect x="244" y="628" width="3" height="21" fill="#00ff00"/>
<rect x="260" y="628" width="3" height="21" fill="#00ff00"/>
<rect x="276" y="628" width="3" height="38" fill="#00ff00"/>
<rect x="292" y="628" width="3" height="54" fill="#00ff00"/>
<rect x="308" y="628" width="3" height="65" fill="#00ff00"/>
<rect x="324" y="628" width="3" height="71" fill="#00ff00"/>
<rect x="340" y="628" width="3" height="79" fill="#00ff00"/>
<rect x="356" y="628" width="3" height="82" fill="#00ff00"/>
<rect x="372" y="628" width="3" height="79" fill="#00ff00"/>
<rect x="388" y="628" width="3" height="76" fill="#00ff00"/>
<rect x="404" y="628" width="3" height="72" fill="#00ff00"/>
<rect x="420" y="628" width="3" height="68" fill="#00ff00"/>
<rect x="436" y="628" width="3" height="65" fill="#00ff00"/>
<rect x="452" y="628" width="3" height="61" fill="#00ff00"/>
<rect x="468" y="628" width="3" height="55" fill="#00ff00"/>
<rect x="484" y="628" width="3" height="48" fill="#00ff00"/>
<rect x="500" y="628" width="3" height="44" fill="#00ff00"/>
<rect x="516" y="628" width="3" height="38" fill="#00ff00"/>
<rect x="532" y="628" width="3" height="35" fill="#00ff00"/>
<rect x="548" y="628" width="3" height="29" fill="#00ff00"/>
<rect x="564" y="628" width="3" height="21" fill="#00ff00"/>
<rect x="580" y="628" width="3" height="16" fill="#00ff00"/>
<rect x="596" y="628" width="3" height="13" fill="#00ff00"/>
<rect x="612" y="628" width="3" height="9" fill="#00ff00"/>
<rect x="628" y="628" width="3" height="5" fill="#00ff00"/>
<rect x="644" y="628" width="3" height="4" fill="#00ff00"/>
<rect x="660" y="628" width="3" height="8" fill="#00ff00"/>
<rect x="676" y="628" width="3" height="15" fill="#00ff00"/>
<rect x="692" y="628" width="3" height="21" fill="#00ff00"/>
<rect x="708" y="628" width="3" height="26" fill="#00ff00"/>
<rect x="724" y="628" width="3" height="28" fill="#00ff00"/>
<rect x="740" y="628" width="3" height="28" fill="#00ff00"/>
<rect x="756" y="628" width="3" height="22" fill="#00ff00"/>
<rect x="772" y="628" width="3" height="21" fill="#00ff00"/>
<rect x="788" y="628" width="3" height="20" fill="#00ff00"/>
<rect x="804" y="628" width="3" height="15" fill="#00ff00"/>
<rect x="820" y="628" width="3" height="5" fill="#00ff00"/>
<rect x="836" y="628" width="3" height="1" fill="#00ff00"/>
<rect x="852" y="625" width="3" height="3" fill="#00ff00"/>
<rect x="868" y="624" width="3" height="4" fill="#00ff00"/>
<rect x="884" y="626" width="3" height="2" fill="#00ff00"/>
<rect x="900" y="628" width="3" height="1" fill="#00ff00"/>
<rect x="916" y="628" width="3" height="3" fill="#00ff00"/>
<rect x="932" y="628" width="3" height="11" fill="#00ff00"/>
<rect x="948" y="628" width="3" height="12" fill="#00ff00"/>
<rect x="964" y="628" width="3" height="11" fill="#00ff00"/>
<rect x="980" y="628" width="3" height="10" fill="#00ff00"/>
<rect x="996" y="628" width="3" height="10" fill="#00ff00"/>
<rect x="1012" y="628" width="3" height="12" fill="#00ff00"/>
<rect x="1028" y="628" width="3" height="12" fill="#00ff00"/>
<rect x="1044" y="628" width="3" height="13" fill="#00ff00"/>
<rect x="1060" y="628" width="3" height="15" fill="#00ff00"/>
<rect x="1076" y="628" width="3" height="16" fill="#00ff00"/>
<rect x="1092" y="628" width="3" height="15" fill="#00ff00"/>
<rect x="1108" y="628" width="3" height="11" fill="#00ff00"/>
<rect x="1124" y="628" width="3" height="8" fill="#00ff00"/>
<rect x="1140" y="628" width="3" height="3" fill="#00ff00"/>
<rect x="1156" y="627" width="3" height="1" fill="#00ff00"/>
<rect x="1172" y="625" width="3" height="3" fill="#00ff00"/>
<rect x="1188" y="621" width="3" height="7" fill="#00ff00"/>
<rect x="1204" y="619" width="3" height="9" fill="#00ff00"/>
<rect x="1220" y="623" width="3" height="5" fill="#00ff00"/>
<rect x="1236" y="619" width="3" height="9" fill="#00ff00"/>
<rect x="1252" y="614" width="3" height="14" fill="#00ff00"/>
<rect x="1268" y="611" width="3" height="17" fill="#00ff00"/>
<rect x="1284" y="610" width="3" height="18" fill="#00ff00"/>
<rect x="1300" y="608" width="3" height="20" fill="#00ff00"/>
<rect x="1316" y="603" width="3" height="25" fill="#00ff00"/>
<rect x="1332" y="611" width="3" height="17" fill="#00ff00"/>
<rect x="1348" y="618" width="3" height="10" fill="#00ff00"/>
<polyline points="5,655.9 21,649.8 37,644.8 53,639.9 69,635.7 85,631.6 101,628.8 117,626.1 133,625 149,625 165,626.3 181,629.6 197,632.4 213,635.4 229,638.2 245,641 261,644 277,648.1 293,653.1 309,660.9 325,665.2 341,672.1 357,678.4 373,684.5 389,690.3 405,695.6 421,699.6 437,699.9 453,699.9 469,698.9 485,695 501,690.8 517,686.7 533,682 549,676.3 565,671.6 581,666.8 597,660.9 613,655.9 629,650.6 645,646.1 661,644 677,641 693,639.9 709,639.9 725,641 741,642.3 757,644.3 773,646 789,647.6 805,649 821,648.6 837,646.5 853,644 869,641 885,638.2 901,635.2 917,632.4 933,630.8 949,629.9 965,630.8 981,631.6 997,632.7 1013,634.4 1029,635.7 1045,636.9 1061,638.5 1077,639.5 1093,639.9 1109,639.9 1125,639.9 1141,639.4 1157,638.7 1173,636.9 1189,635.2 1205,633.2 1221,630.8 1237,628.8 1253,625.8 1269,621.6 1285,619.7 1301,617.8 1317,614.7 1333,613 1349,612.9" fill="none" stroke="#ff0000" stroke-width="2" shape-rendering="crispEdges"/>
<rect x="1645" y="598" width="2" height="1" fill="#000"/>
<text x="1647.8" y="607" font-size="9.8" fill="#000" color="#000" textLength="38" lengthAdjust="spacingAndGlyphs">0.001349</text>
<rect x="1645" y="628" width="2" height="1" fill="#000"/>
<text x="1647.8" y="632" font-size="9.8" fill="#000" color="#000" textLength="18.3" lengthAdjust="spacingAndGlyphs">0.00</text>
<rect x="1645" y="714" width="2" height="1" fill="#000"/>
<text x="1647.9" y="712" font-size="9.8" fill="#000" color="#000" textLength="35.6" lengthAdjust="spacingAndGlyphs">-0.00381</text>
<text x="9" y="729.6" font-size="9.8" fill="#000" color="#000" textLength="32.2" lengthAdjust="spacingAndGlyphs">RSI(14)</text>
<text x="43.8" y="729.6" font-size="9.8" fill="#000" color="#000" textLength="33.2" lengthAdjust="spacingAndGlyphs">45.1183</text>
<line x1="6" y1="739.5" x2="1644" y2="739.5" stroke="#000" stroke-width="1" stroke-dasharray="3,3"/>
<line x1="6" y1="769.5" x2="1644" y2="769.5" stroke="#000" stroke-width="1" stroke-dasharray="3,3"/>
<line x1="6" y1="805.5" x2="1644" y2="805.5" stroke="#000" stroke-width="1" stroke-dasharray="3,3"/>
<polyline points="5,760.8 21,760.8 37,764.6 53,771.9 69,768.3 85,769.9 101,769.9 117,770.3 133,772.7 149,772.9 165,777.9 181,789 197,776.9 213,778.7 229,770.9 245,770.9 261,772.9 277,789 293,789 309,788 325,788 341,789 357,787.6 373,779.7 389,779.7 405,778.7 421,778.7 437,779.7 453,778.3 469,772.9 485,772.9 501,773.7 517,772.9 533,773.7 549,768.7 565,763.6 581,767.7 597,768.7 613,766.3 629,765.8 645,769.9 661,777.6 677,781.7 693,782.3 709,782.9 725,779.7 741,776.7 757,768.7 773,772.9 789,772.9 805,766.3 821,759.8 837,764.6 853,764.8 869,767.3 885,771.7 901,772.3 917,772.9 933,781.9 949,773.3 965,770.9 981,770.9 997,773.7 1013,773.7 1029,773.7 1045,773.9 1061,776.9 1077,775.7 1093,773.3 1109,770.7 1125,762.8 1141,762.8 1157,764.8 1173,764.8 1189,760.8 1205,762.6 1221,773.7 1237,761.8 1253,759.8 1269,760.8 1285,763.8 1301,760.5 1317,757.6 1333,774.9 1349,774.9" fill="none" stroke="#1e90ff" stroke-width="2" shape-rendering="crispEdges"/>
<text x="1648.2" y="728" font-size="9.8" fill="#000" color="#000" textLength="14.2" lengthAdjust="spacingAndGlyphs">100</text>
<text x="1647" y="743" font-size="9.8" fill="#000" color="#000" textLength="9.7" lengthAdjust="spacingAndGlyphs">80</text>
<text x="1647.2" y="773" font-size="9.8" fill="#000" color="#000" textLength="10" lengthAdjust="spacingAndGlyphs">50</text>
<text x="1647.6" y="809" font-size="9.8" fill="#000" color="#000" textLength="9.5" lengthAdjust="spacingAndGlyphs">15</text>
<text x="1648" y="818" font-size="9.8" fill="#000" color="#000" textLength="5" lengthAdjust="spacingAndGlyphs">0</text>
<rect x="1645" y="719" width="2" height="1" fill="#000"/>
<rect x="1645" y="821" width="2" height="1" fill="#000"/>
<rect x="5" y="822" width="1" height="3" fill="#000"/>
<text x="4.4" y="834" font-size="9.8" fill="#000" color="#000" textLength="49.5" lengthAdjust="spacingAndGlyphs">12 Jun 2023</text>
<rect x="69" y="822" width="1" height="3" fill="#000"/>
<text x="68.4" y="834" font-size="9.8" fill="#000" color="#000" textLength="52.5" lengthAdjust="spacingAndGlyphs">13 Jun 08:00</text>
<rect x="133" y="822" width="1" height="3" fill="#000"/>
<text x="132.4" y="834" font-size="9.8" fill="#000" color="#000" textLength="52.5" lengthAdjust="spacingAndGlyphs">14 Jun 00:00</text>
<rect x="197" y="822" width="1" height="3" fill="#000"/>
<text x="196.4" y="834" font-size="9.8" fill="#000" color="#000" textLength="52.5" lengthAdjust="spacingAndGlyphs">14 Jun 16:00</text>
<rect x="261" y="822" width="1" height="3" fill="#000"/>
<text x="260.4" y="834" font-size="9.8" fill="#000" color="#000" textLength="52.5" lengthAdjust="spacingAndGlyphs">15 Jun 08:00</text>
<rect x="325" y="822" width="1" height="3" fill="#000"/>
<text x="324.4" y="834" font-size="9.8" fill="#000" color="#000" textLength="52.5" lengthAdjust="spacingAndGlyphs">16 Jun 00:00</text>
<rect x="389" y="822" width="1" height="3" fill="#000"/>
<text x="388.4" y="834" font-size="9.8" fill="#000" color="#000" textLength="52.5" lengthAdjust="spacingAndGlyphs">16 Jun 16:00</text>
<rect x="453" y="822" width="1" height="3" fill="#000"/>
<text x="452.4" y="834" font-size="9.8" fill="#000" color="#000" textLength="52.5" lengthAdjust="spacingAndGlyphs">19 Jun 08:00</text>
<rect x="517" y="822" width="1" height="3" fill="#000"/>
<text x="516.4" y="834" font-size="9.8" fill="#000" color="#000" textLength="52.5" lengthAdjust="spacingAndGlyphs">20 Jun 00:00</text>
<rect x="581" y="822" width="1" height="3" fill="#000"/>
<text x="580.4" y="834" font-size="9.8" fill="#000" color="#000" textLength="52.5" lengthAdjust="spacingAndGlyphs">20 Jun 16:00</text>
<rect x="645" y="822" width="1" height="3" fill="#000"/>
<text x="644.4" y="834" font-size="9.8" fill="#000" color="#000" textLength="52.5" lengthAdjust="spacingAndGlyphs">21 Jun 08:00</text>
<rect x="709" y="822" width="1" height="3" fill="#000"/>
<text x="708.4" y="834" font-size="9.8" fill="#000" color="#000" textLength="52.5" lengthAdjust="spacingAndGlyphs">22 Jun 00:00</text>
<rect x="773" y="822" width="1" height="3" fill="#000"/>
<text x="772.4" y="834" font-size="9.8" fill="#000" color="#000" textLength="52.5" lengthAdjust="spacingAndGlyphs">22 Jun 16:00</text>
<rect x="837" y="822" width="1" height="3" fill="#000"/>
<text x="836.4" y="834" font-size="9.8" fill="#000" color="#000" textLength="52.5" lengthAdjust="spacingAndGlyphs">23 Jun 08:00</text>
<rect x="901" y="822" width="1" height="3" fill="#000"/>
<text x="900.4" y="834" font-size="9.8" fill="#000" color="#000" textLength="52.5" lengthAdjust="spacingAndGlyphs">26 Jun 00:00</text>
<rect x="965" y="822" width="1" height="3" fill="#000"/>
<text x="964.4" y="834" font-size="9.8" fill="#000" color="#000" textLength="52.5" lengthAdjust="spacingAndGlyphs">26 Jun 16:00</text>
<rect x="1029" y="822" width="1" height="3" fill="#000"/>
<text x="1028.4" y="834" font-size="9.8" fill="#000" color="#000" textLength="52.5" lengthAdjust="spacingAndGlyphs">27 Jun 08:00</text>
<rect x="1093" y="822" width="1" height="3" fill="#000"/>
<text x="1092.4" y="834" font-size="9.8" fill="#000" color="#000" textLength="52.5" lengthAdjust="spacingAndGlyphs">28 Jun 00:00</text>
<rect x="1157" y="822" width="1" height="3" fill="#000"/>
<text x="1156.4" y="834" font-size="9.8" fill="#000" color="#000" textLength="52.5" lengthAdjust="spacingAndGlyphs">28 Jun 16:00</text>
<rect x="1221" y="822" width="1" height="3" fill="#000"/>
<text x="1220.4" y="834" font-size="9.8" fill="#000" color="#000" textLength="52.5" lengthAdjust="spacingAndGlyphs">29 Jun 08:00</text>
<rect x="1285" y="822" width="1" height="3" fill="#000"/>
<text x="1284.4" y="834" font-size="9.8" fill="#000" color="#000" textLength="52.5" lengthAdjust="spacingAndGlyphs">30 Jun 00:00</text>
<rect x="1349" y="822" width="1" height="3" fill="#000"/>
<text x="1348.4" y="834" font-size="9.8" fill="#000" color="#000" textLength="52.5" lengthAdjust="spacingAndGlyphs">30 Jun 16:00</text>
</svg>
</body></html>
